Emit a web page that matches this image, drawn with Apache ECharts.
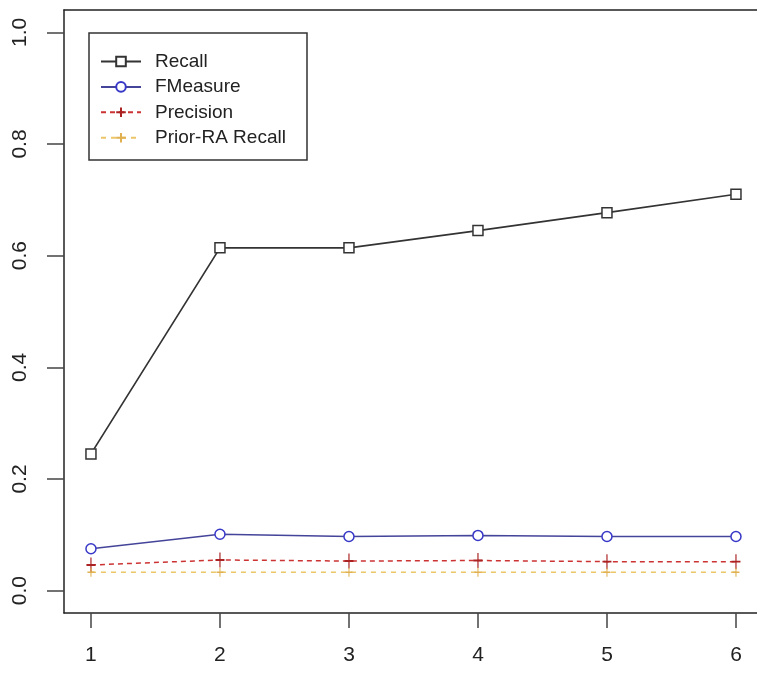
<!DOCTYPE html>
<html>
<head>
<meta charset="utf-8">
<script src="https://cdn.jsdelivr.net/npm/echarts@6/dist/echarts.min.js"></script>
<style>html,body{margin:0;padding:0;background:#fff;}#c{width:757px;height:679px;}</style>
</head>
<body>
<div id="c"></div>
<script>
var xValues = [1, 2, 3, 4, 5, 6];
var recall = [0.245, 0.614, 0.614, 0.645, 0.677, 0.710];
var fmeasure = [0.075, 0.101, 0.097, 0.099, 0.097, 0.097];
var precision = [0.046, 0.055, 0.053, 0.054, 0.052, 0.052];
var priorRecall = [0.033, 0.033, 0.033, 0.033, 0.033, 0.033];
var yTicks = [0, 0.2, 0.4, 0.6, 0.8, 1.0];
var xTicks = [1, 2, 3, 4, 5, 6];
var names = ['Recall', 'FMeasure', 'Precision', 'Prior-RA Recall'];

function pairs(arr) { return xValues.map(function (x, i) { return [x, arr[i]]; }); }
var plusPath = 'path://M5,0 L5,10 M0,5 L10,5';
var FONT = '"Liberation Sans", Arial, sans-serif';
var XMIN = 0.791, XMAX = 6.163;

var chart = echarts.init(document.getElementById('c'), null, {renderer: 'canvas'});
chart.setOption({
  animation: false,
  backgroundColor: '#fff',
  grid: {left: 64, top: 10, right: 0, bottom: 66, show: false, containLabel: false},
  xAxis: [{
    type: 'value', min: XMIN, max: XMAX, position: 'bottom',
    axisLine: {show: true, onZero: false, lineStyle: {color: '#222', width: 1.5}},
    splitLine: {show: false},
    axisTick: {show: true, length: 15, lineStyle: {color: '#444', width: 1.5}, customValues: xTicks},
    axisLabel: {customValues: xTicks, margin: 32, fontSize: 21, color: '#222', fontFamily: FONT,
      formatter: function (v) { return String(v); }}
  }, {
    type: 'value', min: XMIN, max: XMAX, position: 'top',
    axisLine: {show: true, onZero: false, lineStyle: {color: '#222', width: 1.5}},
    splitLine: {show: false}, axisTick: {show: false}, axisLabel: {show: false}
  }],
  yAxis: {
    type: 'value', min: -0.04, max: 1.04,
    axisLine: {show: true, onZero: false, lineStyle: {color: '#222', width: 1.5}},
    splitLine: {show: false},
    axisTick: {show: true, length: 17, lineStyle: {color: '#444', width: 1.5}, customValues: yTicks},
    axisLabel: {customValues: yTicks, rotate: 90, margin: 33, fontSize: 21, color: '#222', fontFamily: FONT,
      formatter: function (v) { return v.toFixed(1); }}
  },
  legend: {
    orient: 'vertical', left: 95, top: 47,
    itemWidth: 40, itemHeight: 12, itemGap: 6.4,
    textStyle: {fontSize: 19, color: '#222', fontFamily: FONT, padding: [0, 0, 0, 9]},
    data: names
  },
  graphic: [{type: 'rect', shape: {x: 89, y: 33, width: 218, height: 127},
    style: {fill: 'none', stroke: '#333', lineWidth: 1.5}}],
  series: [
    {name: names[0], type: 'line', data: pairs(recall), symbol: 'rect', symbolSize: 10,
      lineStyle: {color: '#333', width: 1.7}, itemStyle: {color: '#fff', borderColor: '#333', borderWidth: 1.5}},
    {name: names[1], type: 'line', data: pairs(fmeasure), symbol: 'circle', symbolSize: 10,
      lineStyle: {color: '#44449a', width: 1.5}, itemStyle: {color: '#fff', borderColor: '#3838c8', borderWidth: 1.5}},
    {name: names[2], type: 'line', data: pairs(precision), symbol: plusPath, symbolSize: [9, 15],
      lineStyle: {color: '#cc3333', width: 1.5, type: [5, 4]}, itemStyle: {color: 'none', borderColor: '#aa2222', borderWidth: 1.5}},
    {name: names[3], type: 'line', data: pairs(priorRecall), symbol: plusPath, symbolSize: [7, 9],
      lineStyle: {color: '#ecc668', width: 1.5, type: [5, 5]}, itemStyle: {color: 'none', borderColor: '#e0b050', borderWidth: 1.2}}
  ]
});
</script>
</body>
</html>
